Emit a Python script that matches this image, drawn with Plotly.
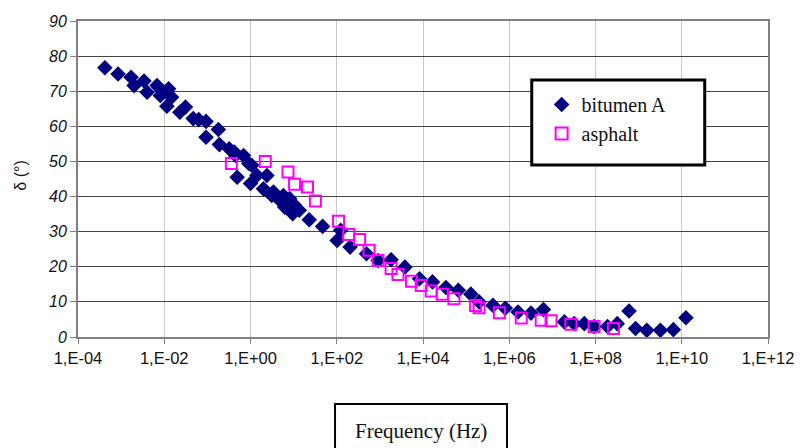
import plotly.graph_objects as go

# ---- data (frequency in Hz, phase angle in degrees) ----
bitumen_freq = [4.2e-4, 8.5e-4, 1.7e-3, 2.0e-3, 3.4e-3, 4.0e-3, 6.8e-3, 8.1e-3, 1.26e-2, 1.48e-2,
                1.15e-2, 2.3e-2, 3.1e-2, 4.7e-2, 6.3e-2, 9.3e-2, 9.3e-2, 0.18, 0.19, 0.32,
                0.42, 0.45, 0.49, 0.69, 0.91, 1.0, 1.07, 1.41, 2.0, 2.4,
                3.1, 3.4, 4.4, 5.8, 6.2, 6.8, 8.1, 9.5, 10.5, 13.5,
                23, 47, 102, 123, 204, 490, 910, 1820, 3800, 8300,
                1.66e4, 3.4e4, 6.6e4, 1.29e5, 2.0e5, 4.2e5, 8.1e5, 1.6e6, 3.2e6, 6.2e6,
                1.9e7, 3.2e7, 5.5e7, 9.3e7, 1.9e8, 3.2e8, 6.0e8, 8.5e8, 1.55e9, 3.2e9,
                6.4e9, 1.25e10]
bitumen_delta = [76.7, 74.9, 74.0, 71.6, 72.9, 69.7, 71.6, 68.8, 70.7, 68.3,
                 65.7, 64.0, 65.5, 62.2, 61.9, 61.4, 56.9, 59.1, 54.8, 53.6,
                 52.7, 51.7, 45.5, 51.7, 49.4, 43.7, 48.9, 46.0, 42.2, 46.0,
                 40.3, 41.3, 39.4, 40.3, 37.0, 38.4, 39.4, 35.1, 37.5, 36.1,
                 33.4, 31.5, 27.5, 30.4, 25.6, 23.7, 21.8, 22.0, 19.9, 16.6,
                 15.7, 14.1, 13.3, 12.2, 10.0, 9.0, 8.2, 7.1, 6.8, 7.8,
                 4.3, 3.8, 3.8, 3.0, 3.0, 3.8, 7.4, 2.4, 1.9, 1.9,
                 2.1, 5.5]

asphalt_freq = [0.36, 2.2, 7.4, 10.5, 21, 32, 110, 190, 340, 560,
                910, 1820, 2630, 5400, 9100, 1.55e4, 2.8e4, 5.2e4, 1.66e5, 2.0e5,
                5.9e5, 1.9e6, 5.5e6, 9.3e6, 2.7e7, 9.3e7, 2.6e8]
asphalt_delta = [49.4, 50.0, 47.0, 43.5, 42.7, 38.7, 33.0, 29.2, 27.8, 24.7,
                 21.8, 19.5, 17.8, 15.9, 14.7, 13.1, 12.2, 10.9, 9.0, 8.3,
                 6.9, 5.4, 4.8, 4.6, 3.6, 3.0, 2.4]

x_tickvals = [1e-4, 1e-2, 1e0, 1e2, 1e4, 1e6, 1e8, 1e10, 1e12]
x_ticktext = ["1,E-04", "1,E-02", "1,E+00", "1,E+02", "1,E+04", "1,E+06", "1,E+08", "1,E+10", "1,E+12"]
y_tickvals = [0, 10, 20, 30, 40, 50, 60, 70, 80, 90]

series_names = ["bitumen A", "asphalt"]
x_title = "Frequency (Hz)"
y_title = "δ (°)"

SERIF = "Liberation Serif"
SANS = "Liberation Sans"

W, H = 806, 448
L, R, T, B = 78, 30, 21, 111  # plot area 78..776 x 21..337

fig = go.Figure()
fig.add_trace(go.Scatter(
    x=bitumen_freq, y=bitumen_delta, mode="markers", name=series_names[0],
    legendgroup="a",
    marker=dict(symbol="diamond", size=12, color="#000080", line=dict(width=0)),
))
fig.add_trace(go.Scatter(
    x=asphalt_freq, y=asphalt_delta, mode="markers", name=series_names[1],
    legendgroup="b",
    marker=dict(symbol="square-open", size=11, color="#ff00ff", line=dict(width=2, color="#ff00ff")),
))

pw = W - L - R
ph = H - T - B

def px_x(px):
    return (px - L) / pw

def px_y(py):
    return (H - B - py) / ph

fig.update_layout(
    width=W, height=H,
    margin=dict(l=L, r=R, t=T, b=B),
    paper_bgcolor="white", plot_bgcolor="white",
    showlegend=True,
    legend=dict(
        x=px_x(547), y=px_y(85), xanchor="left", yanchor="top",
        bgcolor="rgba(0,0,0,0)", borderwidth=0,
        font=dict(family=SERIF, size=20, color="#111"),
        traceorder="grouped", tracegroupgap=0,
        itemsizing="constant",
    ),
    xaxis=dict(
        type="log", range=[-4, 12],
        tickvals=x_tickvals, ticktext=x_ticktext,
        tickfont=dict(family=SANS, size=16.5, color="#111"),
        showgrid=True, gridcolor="#c8c8c8", gridwidth=1,
        showline=True, linecolor="#808080", linewidth=2, mirror=True,
        ticks="outside", ticklen=5, tickcolor="#808080", tickwidth=1,
        zeroline=False,
    ),
    yaxis=dict(
        range=[0, 90], tickvals=y_tickvals,
        tickfont=dict(family=SANS, size=16, color="#111", style="italic"),
        showgrid=True, gridcolor="#444444", gridwidth=1,
        showline=True, linecolor="#808080", linewidth=2, mirror=True,
        ticks="outside", ticklen=6, tickcolor="#808080", tickwidth=1,
        zeroline=False,
    ),
    shapes=[
        # legend frame
        dict(type="rect", xref="paper", yref="paper",
             x0=px_x(537), x1=px_x(712), y0=px_y(165), y1=px_y(80),
             line=dict(color="black", width=3), fillcolor="white", layer="above"),
        # x-title frame
        dict(type="rect", xref="paper", yref="paper",
             x0=px_x(338), x1=px_x(512), y0=px_y(460), y1=px_y(404),
             line=dict(color="black", width=2), fillcolor="rgba(0,0,0,0)"),
    ],
    annotations=[
        dict(text=x_title, xref="paper", yref="paper", x=px_x(425), y=px_y(431),
             xanchor="center", yanchor="middle", showarrow=False,
             font=dict(family=SERIF, size=21, color="#111")),
        dict(text=y_title, xref="paper", yref="paper", x=px_x(20), y=px_y(176),
             xanchor="center", yanchor="middle", showarrow=False, textangle=-90,
             font=dict(family=SANS, size=16, color="#111")),
    ],
)

fig.write_html("out.html")
